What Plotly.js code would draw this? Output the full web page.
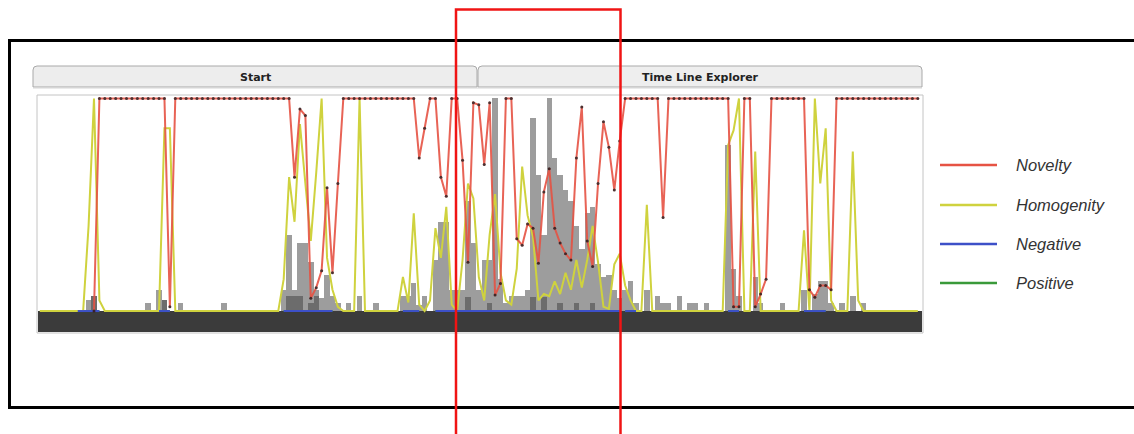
<!DOCTYPE html>
<html><head><meta charset="utf-8">
<script src="https://cdn.plot.ly/plotly-3.0.1.min.js"></script>
<style>html,body{margin:0;padding:0;background:#fff}#chart{width:1134px;height:434px}</style>
</head><body><div id="chart"></div>
<script>
// time steps 0..162
const timeSteps = Array.from({length: 163}, (_, i) => i);

const novelty = [
 null,null,null,null,null,null,null,null,null,null,
 0, 1,1,1,1,1,1,1,1,1,1,1,1,1, 0.02,
 1,1,1,1,1,1,1,1,1,1,1,1,1,1,1,1,1,1,1,1,1,1,
 0.63,0.95,0.92,0.06,0.11,0.19,0.58,0.18,0.60,
 1,1,1,1,1,1,1,1,1,1,1,1,1,1,
 0.72,0.86,1,1,0.63,0.54,1,1,0.71,0.23,0.98,0.97,0.69,0.98,0.075,0.13,1,1,
 0.34,0.31,0.41,0.39,0.225,0.56,0.67,0.39,0.32,0.27,0.24,0.72,0.96,0.33,0.21,0.60,0.89,0.77,0.57,0.80,
 1,1,1,1,1,1,1, 0.44,
 1,1,1,1,1,1,1,1,1,1,1,1,
 0.02,0.02,1,1,0.02,0.08,0.15,
 1,1,1,1,1,1,1,
 0.1,0.065,0.12,0.12,0.1,
 1,1,1,1,1,1,1,1,1,1,1,1,1,1,1,1
];

const homogenity = [
 0,0,0,0,0,0,0,0,0, 0.4,1.0,0.05,
 0,0,0,0,0,0,0,0,0,0, 0,0.86,0.86,
 0,0,0,0,0,0,0,0,0,0,0,0,0,0,0,0,0,0,0,0,
 0.15,0.63,0.42,0.88,0.6,0.33,0.65,1.0,0.25,0.1,0.02,
 0,0,0, 1.0,
 0,0,0,0,0,0,0,
 0.16,0.04,0.46,0.03,0,0.05,0.39,0.25,0.49,0.03,
 0,0.24,0.6,0.53,0.16,0.05,0.36,0.55,0.18,0.05,0.03,
 0.2,0.68,0.45,0.35,0.05,0.08,0.07,0.14,0.08,0.18,0.1,0.24,0.11,0.24,0.4,0.23,0.02,0.01,0.22,0.27,
 0.12,0.05,0,0,0.5,
 0,0,0,0,0,0,0,0,0,0,0,0,0,0,
 0.78,0.85,1.0,0,0,0.75,
 0,0,0,0,0,0,0,0,
 0.38,0,1.0,0.6,0.86,0.05,
 0,0,0,0.75,0.05,
 0,0,0,0,0,0,0,0,0,0,0
];

// event volume bars (sparse: step, height)
const volumeSteps = [9,10,20,22,23,26,34,45,46,47,48,49,50,51,52,53,54,55,57,59,62,67,68,69,70,71,73,74,75,76,77,78,79,80,81,82,83,84,85,86,87,88,89,90,91,92,93,94,95,96,97,98,99,100,101,102,103,104,105,106,107,108,109,110,112,114,115,116,118,120,121,123,127,128,129,132,133,137,141,143,144,145,146,148,150,152];
const volumeValues = [0.05,0.07,0.04,0.1,0.04,0.04,0.04,0.1,0.36,0.1,0.32,0.32,0.23,0.1,0.06,0.17,0.07,0.04,0.04,0.07,0.04,0.07,0.07,0.13,0.03,0.07,0.24,0.42,0.42,0.1,0.1,0.1,0.52,0.32,0.1,0.24,0.24,1.0,0.15,0.04,0.07,0.07,0.07,0.1,0.91,0.64,0.36,1.0,0.72,0.64,0.57,0.52,0.4,0.29,0.46,0.49,0.22,0.16,0.17,0.1,0.06,0.1,0.14,0.04,0.1,0.07,0.04,0.04,0.07,0.04,0.04,0.04,0.78,0.2,0.07,0.16,0.04,0.04,0.1,0.08,0.14,0.14,0.04,0.04,0.07,0.04];

const coreSteps = [10,23,46,47,48,50,51,79,83,91,93,96,99,102];
const coreValues = [0.07,0.05,0.07,0.07,0.07,0.04,0.07,0.066,0.04,0.066,0.066,0.04,0.04,0.04];

// sentiment lines sit on the baseline where there is activity
const negativeSteps = [7,8,9,10,11,null,22,23,24,null,45,46,47,48,49,50,51,52,53,54,null,67,68,69,70,null,73,74,75,76,77,78,79,80,81,82,83,84,85,86,87,88,89,90,91,92,93,94,95,96,97,98,99,100,101,102,103,104,105,106,107,null,108,109,110,null,112,null,127,128,129,null,132,null,141,142,143,144,145,null,150];
const negativeValues = negativeSteps.map(s => s === null ? null : 0);
const positiveValues = negativeSteps.map(s => s === null ? null : 0);

const seriesNames = ['Novelty', 'Homogenity', 'Negative', 'Positive'];
const seriesColors = ['#e65344', '#cfd23e', '#3d50c8', '#3a9a3a'];

const traces = [
 {type:'bar', x:volumeSteps, y:volumeValues, width:1, marker:{color:'#9d9d9d', line:{width:0}}, showlegend:false, hoverinfo:'skip'},
 {type:'bar', x:coreSteps, y:coreValues, width:1, marker:{color:'#6c6c6c', line:{width:0}}, showlegend:false, hoverinfo:'skip'},
 {type:'scatter', mode:'lines', name:seriesNames[3], x:negativeSteps, y:positiveValues, line:{color:seriesColors[3], width:2}, connectgaps:false, showlegend:false},
 {type:'scatter', mode:'lines', name:seriesNames[1], x:timeSteps, y:homogenity, line:{color:seriesColors[1], width:2}, showlegend:false},
 {type:'scatter', mode:'lines', name:seriesNames[2], x:negativeSteps, y:negativeValues, line:{color:seriesColors[2], width:2}, connectgaps:false, showlegend:false},
 {type:'scatter', mode:'lines+markers', name:seriesNames[0], x:timeSteps, y:novelty, line:{color:seriesColors[0], width:2}, opacity:0.9,
  marker:{size:3, color:'#3a1a1a'}, connectgaps:false, showlegend:false}
];

// pixel helpers for decorations
const PL = 38, PW = 884, PB = 332, PH = 236;
const X = px => (px - PL) / PW;
const Y = py => (PB - py) / PH;

function tabPath(x0, x1, y0, y1, r) {
  return `M ${X(x0)} ${Y(y1)} L ${X(x0)} ${Y(y0 + r)} Q ${X(x0)} ${Y(y0)} ${X(x0 + r)} ${Y(y0)} L ${X(x1 - r)} ${Y(y0)} Q ${X(x1)} ${Y(y0)} ${X(x1)} ${Y(y0 + r)} L ${X(x1)} ${Y(y1)} Z`;
}

const shapes = [
 {type:'rect', xref:'paper', yref:'y', x0:0, x1:1, y0:-0.0986, y1:0, fillcolor:'#3b3b3b', line:{width:0}, layer:'below'},
 {type:'rect', xref:'paper', yref:'paper', x0:X(37), x1:X(923), y0:Y(333), y1:Y(95), line:{color:'#c4c4c4', width:1}, layer:'above'},
 {type:'path', xref:'paper', yref:'paper', path:tabPath(33, 477, 66, 87, 4), fillcolor:'#ededed', line:{color:'#a9a9a9', width:1}},
 {type:'path', xref:'paper', yref:'paper', path:tabPath(478, 922, 66, 87, 4), fillcolor:'#eeeeee', line:{color:'#a9a9a9', width:1}},
 {type:'line', xref:'paper', yref:'paper', x0:X(33), x1:X(922), y0:Y(88), y1:Y(88), line:{color:'#d6d6d6', width:1}},
 {type:'rect', xref:'paper', yref:'paper', x0:X(9.5), x1:X(1140), y0:Y(407.5), y1:Y(40.5), line:{color:'#000000', width:3}},
 {type:'rect', xref:'paper', yref:'paper', x0:X(456), x1:X(620.5), y0:Y(445), y1:Y(9.5), line:{color:'#f01414', width:2.5}}
];

const legendY = [165, 205, 244, 283];
const annotations = [
 {xref:'paper', yref:'paper', x:X(255), y:Y(77), xanchor:'center', yanchor:'middle', text:'<b>Start</b>', showarrow:false, font:{family:'DejaVu Sans', size:11, color:'#222'}},
 {xref:'paper', yref:'paper', x:X(700), y:Y(77), xanchor:'center', yanchor:'middle', text:'<b>Time Line Explorer</b>', showarrow:false, font:{family:'DejaVu Sans', size:11, color:'#222'}}
];
seriesNames.forEach((n, k) => {
  shapes.push({type:'line', xref:'paper', yref:'paper', x0:X(940), x1:X(997), y0:Y(legendY[k]), y1:Y(legendY[k]), line:{color:seriesColors[k], width:2.5}});
  annotations.push({xref:'paper', yref:'paper', x:X(1014), y:Y(legendY[k]), xanchor:'left', yanchor:'middle', text:n, showarrow:false,
    font:{family:'Liberation Sans', size:16.5, color:'#333', style:'italic'}});
});

const layout = {
  width:1134, height:434,
  margin:{l:38, r:212, t:96, b:102, pad:0},
  paper_bgcolor:'#ffffff', plot_bgcolor:'#ffffff',
  barmode:'overlay', bargap:0,
  showlegend:false,
  xaxis:{range:[-0.33, 162.77], showgrid:false, zeroline:false, showticklabels:false, showline:false, ticks:''},
  yaxis:{range:[-0.0986, 1.0117], showgrid:false, zeroline:false, showticklabels:false, showline:false, ticks:''},
  shapes:shapes, annotations:annotations
};

Plotly.newPlot('chart', traces, layout, {staticPlot:true, displayModeBar:false});
</script></body></html>
